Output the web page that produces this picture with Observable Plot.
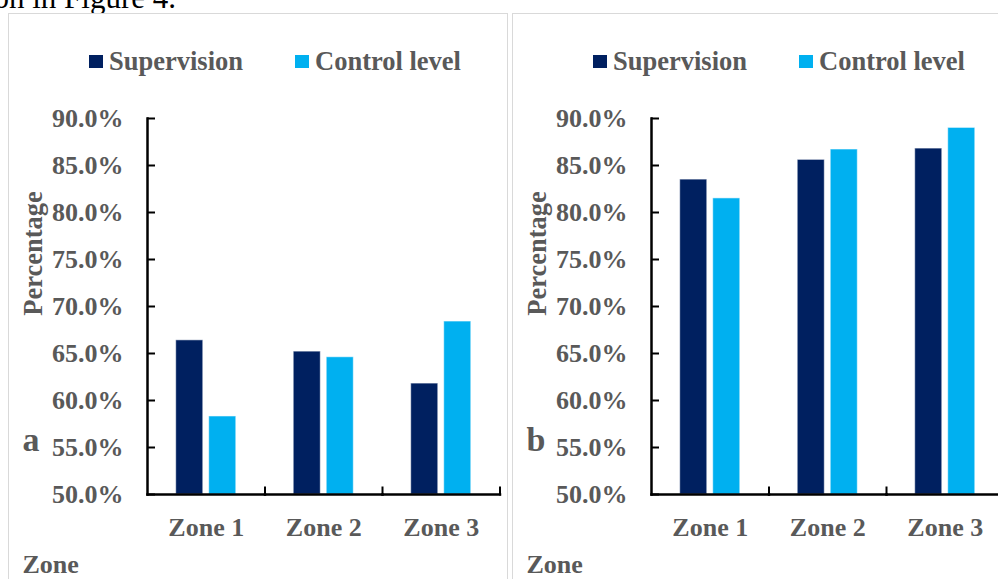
<!DOCTYPE html>
<html>
<head>
<meta charset="utf-8">
<script src="https://cdn.jsdelivr.net/npm/d3@7"></script>
<script src="https://cdn.jsdelivr.net/npm/@observablehq/plot@0.6"></script>
<style>
  html, body { margin: 0; padding: 0; background: #fff; overflow: hidden; width: 998px; height: 579px; }
  .panel { position: absolute; top: 13px; width: 498px; height: 580px; border: 1px solid #d9d9d9; background: #fff; }
  .panel svg { position: absolute; left: 0; top: 0; overflow: visible; }
  #intro { position: absolute; left: 0; top: 0; }
</style>
</head>
<body>
<svg id="intro" width="998" height="14"></svg>
<div id="pa" class="panel" style="left:8px"></div>
<div id="pb" class="panel" style="left:512px"></div>
<script>
// ---- data ----
const zones = ["Zone 1", "Zone 2", "Zone 3"];
const series = ["Supervision", "Control level"];
const supervisionA = [66.4, 65.2, 61.8];
const controlA = [58.3, 64.6, 68.4];
const supervisionB = [83.5, 85.6, 86.8];
const controlB = [81.5, 86.7, 89.0];
const yTicks = [50, 55, 60, 65, 70, 75, 80, 85, 90];
const yDomain = [50, 90];
const panelLabels = ["a", "b"];
const colors = ["#002060", "#00B0F0"];
const introText = "distribution in Figure 4.";

const FONT = "'Liberation Serif', 'Times New Roman', serif";
const GREY = "#595959";

d3.select("#intro").append("text")
  .attr("x", 176).attr("y", 7.5)
  .attr("text-anchor", "end")
  .attr("font-family", FONT).attr("font-size", 31).attr("fill", "#000")
  .text(introText);

function buildRows(sup, ctrl) {
  const rows = [];
  zones.forEach((z, i) => {
    rows.push({zone: z, series: series[0], value: sup[i]});
    rows.push({zone: z, series: series[1], value: ctrl[i]});
  });
  return rows;
}

function drawPanel(el, rows, label) {
  // legend
  const lg = d3.select(el).append("svg").attr("width", 498).attr("height", 80)
    .style("font-family", FONT);
  const legendX = [80, 286];
  series.forEach((s, i) => {
    lg.append("rect").attr("x", legendX[i]).attr("y", 41).attr("width", 14).attr("height", 13).attr("fill", colors[i]);
    lg.append("text").attr("x", legendX[i] + 20).attr("y", 56)
      .attr("font-size", 26.5).attr("font-weight", "bold").attr("fill", GREY).text(s);
  });

  const txt = {fontSize: 26, fontWeight: "bold", fill: GREY};
  const chart = Plot.plot({
    width: 498,
    height: 570,
    marginLeft: 138,
    marginRight: 7.5,
    marginTop: 104,
    marginBottom: 90,
    style: {fontFamily: FONT, background: "transparent", overflow: "visible"},
    fx: {domain: zones, padding: 0, round: false},
    x: {domain: series, paddingInner: 0.18, paddingOuter: 0.87, round: false, axis: null},
    y: {domain: yDomain, axis: null},
    color: {domain: series, range: colors},
    marks: [
      Plot.barY(rows, {fx: "zone", x: "series", y1: yDomain[0], y2: "value", fill: "series",
        stroke: "#ffffff", strokeOpacity: 0.55, strokeWidth: 1}),
      Plot.frame({anchor: "bottom", stroke: "#000", strokeWidth: 2.5}),
      Plot.frame({anchor: "left", facetAnchor: "left", stroke: "#000", strokeWidth: 2.5}),
      Plot.frame({anchor: "right", insetTop: 369, stroke: "#000", strokeWidth: 2}),
      Plot.axisY({ticks: yTicks, tickSize: -8, fill: "none", stroke: "#000", strokeWidth: 2}),
      Plot.axisY({ticks: yTicks, tickSize: 0, tickPadding: 24, stroke: "none",
        tickFormat: d => d.toFixed(1) + "%", label: null, ...txt}),
      Plot.axisFx({anchor: "bottom", tickSize: 0, tickPadding: 23, label: null, ...txt}),
      Plot.text(["Percentage"], {frameAnchor: "left", facetAnchor: "left", rotate: -90,
        textAnchor: "middle", dx: -114, dy: -53, lineAnchor: "middle", ...txt, fontSize: 26.5}),
      Plot.text([label], {frameAnchor: "bottom-left", facetAnchor: "left", textAnchor: "start",
        lineAnchor: "bottom", dx: -125, dy: -44, ...txt, fontSize: 34}),
      Plot.text(["Zone"], {frameAnchor: "bottom-left", facetAnchor: "left", textAnchor: "start",
        lineAnchor: "bottom", dx: -125, dy: 78, ...txt})
    ]
  });
  el.appendChild(chart);
}

drawPanel(document.getElementById("pa"), buildRows(supervisionA, controlA), panelLabels[0]);
drawPanel(document.getElementById("pb"), buildRows(supervisionB, controlB), panelLabels[1]);
</script>
</body>
</html>
